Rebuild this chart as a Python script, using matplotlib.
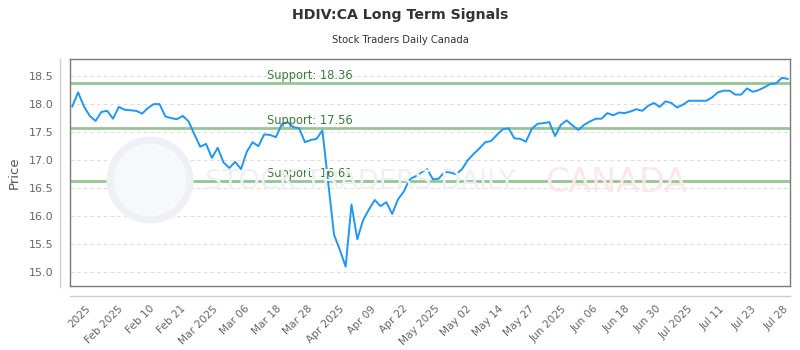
import numpy as np
import matplotlib.pyplot as plt
from matplotlib.lines import Line2D
from matplotlib.patches import Circle

# closing prices, one per trading day
price = [17.95, 18.20, 17.95, 17.78, 17.69, 17.85, 17.87, 17.73, 17.94, 17.89,
         17.88, 17.87, 17.82, 17.92, 17.99, 17.99, 17.77, 17.74, 17.72, 17.78,
         17.68, 17.45, 17.23, 17.28, 17.03, 17.21, 16.95, 16.85, 16.96, 16.83,
         17.14, 17.31, 17.24, 17.45, 17.44, 17.40, 17.63, 17.67, 17.58, 17.56,
         17.31, 17.35, 17.37, 17.52, 16.59, 15.66, 15.39, 15.09, 16.20, 15.58,
         15.92, 16.11, 16.28, 16.17, 16.24, 16.03, 16.29, 16.43, 16.65, 16.70,
         16.77, 16.83, 16.65, 16.66, 16.78, 16.77, 16.74, 16.83, 16.99, 17.10,
         17.20, 17.31, 17.33, 17.44, 17.54, 17.56, 17.38, 17.37, 17.32, 17.55,
         17.64, 17.65, 17.67, 17.42, 17.62, 17.70, 17.61, 17.53, 17.62, 17.68,
         17.73, 17.73, 17.83, 17.79, 17.84, 17.83, 17.86, 17.90, 17.87, 17.96,
         18.01, 17.94, 18.04, 18.01, 17.93, 17.98, 18.05, 18.05, 18.05, 18.05,
         18.11, 18.20, 18.23, 18.23, 18.16, 18.16, 18.27, 18.21, 18.24, 18.29,
         18.35, 18.36, 18.46, 18.44]

supports = [18.36, 17.56, 16.61]

xlabels = ["2025", "Feb 2025", "Feb 10", "Feb 21", "Mar 2025", "Mar 06", "Mar 18",
           "Mar 28", "Apr 2025", "Apr 09", "Apr 22", "May 2025", "May 02", "May 14",
           "May 27", "Jun 2025", "Jun 06", "Jun 18", "Jun 30", "Jul 2025", "Jul 11",
           "Jul 23", "Jul 28"]

yticks = [15.0, 15.5, 16.0, 16.5, 17.0, 17.5, 18.0, 18.5]

fig = plt.figure(figsize=(8, 3.5), dpi=100)
ax = fig.add_axes([0.0879, 0.1837, 0.8996, 0.6469])

x = np.arange(len(price))

# faint watermark behind the plot
circ = Circle((150, 350 - 180), 40, transform=None, facecolor='#f7f8fb',
              edgecolor='#eef0f5', linewidth=5, zorder=0)
fig.patches.append(circ)
fig.text(205 / 800, 1 - 182 / 350, "STOCK TRADERS DAILY", fontsize=19.5,
         color='#eef0f5', va='center', ha='left', zorder=0)
fig.text(545 / 800, 1 - 182 / 350, "CANADA", fontsize=24,
         color='#fde8e8', va='center', ha='left', zorder=0)
ax.patch.set_alpha(0)

for lvl in supports:
    ax.axhline(lvl, color='#95c595', linewidth=2, zorder=2)
    ax.text(33.5, lvl + 0.03, "Support: %.2f" % lvl, color='#3d7a3d',
            fontsize=8.3, va='bottom', ha='left', zorder=4)

ax.plot(x, price, color='#2196f3', linewidth=1.4, zorder=3)

ax.set_xlim(-0.34, 123.4)
ax.set_ylim(14.75, 18.79)

ax.set_yticks(yticks)
ax.set_yticklabels(["%.1f" % v for v in yticks])
ax.yaxis.grid(True, linestyle=(0, (3, 3)), color='#dddddd', linewidth=0.8)
ax.set_axisbelow(True)

ax.set_xticks(np.linspace(2.3, 122.2, len(xlabels)))
ax.set_xticklabels(xlabels, rotation=45, ha='right', rotation_mode='anchor')

ax.tick_params(axis='both', length=0, colors='#666666', labelsize=8)
ax.tick_params(axis='x', pad=13, labelsize=7.6)
ax.tick_params(axis='y', pad=12)

for s in ax.spines.values():
    s.set_color('#7a7a7a')
    s.set_linewidth(1)

ax.set_ylabel("Price", color='#555555', fontsize=9.5, labelpad=6)

# outer axis lines
fig.add_artist(Line2D([60.3 / 800, 60.3 / 800], [1 - 59 / 350, 1 - 287 / 350],
                      color='#cccccc', linewidth=1, transform=fig.transFigure))
fig.add_artist(Line2D([70 / 800, 790 / 800], [1 - 296 / 350, 1 - 296 / 350],
                      color='#cccccc', linewidth=1, transform=fig.transFigure))

fig.text(0.5, 1 - 15 / 350, "HDIV:CA Long Term Signals", ha='center', va='center',
         fontsize=10.2, fontweight='bold', color='#333333')
fig.text(0.5, 1 - 40 / 350, "Stock Traders Daily Canada", ha='center', va='center',
         fontsize=7.2, color='#333333')

fig.savefig("out.png", dpi=100)
